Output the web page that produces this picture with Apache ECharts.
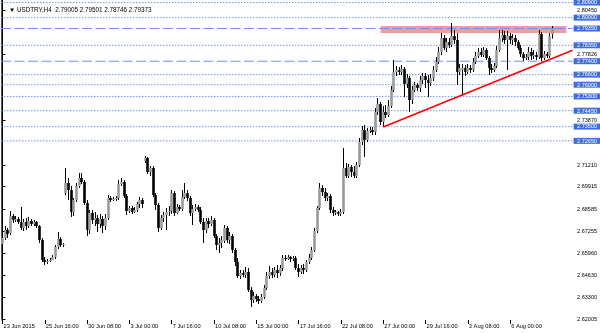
<!DOCTYPE html>
<html><head><meta charset="utf-8">
<script src="https://cdn.jsdelivr.net/npm/echarts@6/dist/echarts.min.js"></script>
<style>html,body{margin:0;padding:0;background:#fff}#c{width:600px;height:333px}</style>
</head><body><div id="c"></div>
<script>
const OPEN = [2.66500,2.66858,2.67335,2.67156,2.68170,2.67931,2.67991,2.67812,2.67454,2.67812,
2.67573,2.67871,2.67692,2.67812,2.67573,2.66739,2.65546,2.65427,2.65486,2.65546,
2.65726,2.66322,2.66798,2.66441,2.69541,2.70138,2.69720,2.68409,2.69124,2.69959,
2.70436,2.70198,2.68945,2.67335,2.68349,2.67931,2.68051,2.67692,2.67991,2.67573,
2.68051,2.69243,2.69124,2.69183,2.69243,2.70078,2.70198,2.69362,2.68468,2.68647,
2.68409,2.68528,2.68885,2.69124,2.71449,2.71629,2.70794,2.71032,2.69422,2.68826,
2.67454,2.68051,2.68230,2.68409,2.68468,2.69541,2.68349,2.68707,2.68587,2.69303,
2.69541,2.69243,2.68349,2.68587,2.68707,2.68528,2.67812,2.67335,2.67871,2.67692,
2.67931,2.66977,2.66441,2.66560,2.66679,2.67454,2.66739,2.66977,2.66143,2.65427,
2.64592,2.64771,2.64652,2.64831,2.63757,2.63161,2.63399,2.63220,2.63101,2.63340,
2.63877,2.64592,2.64831,2.64652,2.64950,2.64771,2.65069,2.65666,2.65606,2.65726,
2.65606,2.65666,2.65069,2.64831,2.65069,2.64950,2.65427,2.65666,2.66143,2.67275,
2.68647,2.69840,2.69601,2.69243,2.69362,2.68528,2.68349,2.68409,2.68289,2.68409,
2.71032,2.70555,2.71092,2.70794,2.70555,2.71211,2.72583,2.73298,2.72702,2.73238,
2.73298,2.73179,2.74372,2.74848,2.73775,2.74372,2.74193,2.74729,2.75683,2.76757,
2.76876,2.76757,2.76935,2.76041,2.76399,2.75087,2.75683,2.75982,2.75803,2.76280,
2.76518,2.76280,2.76101,2.76399,2.76876,2.77353,2.77950,2.78784,2.78188,2.78546,
2.78367,2.78903,2.78665,2.76757,2.76876,2.76995,2.76757,2.76995,2.76876,2.77353,
2.77711,2.77950,2.77771,2.78069,2.77592,2.76995,2.76876,2.77114,2.78069,2.78784,
2.78963,2.78665,2.78903,2.78665,2.78784,2.78546,2.78188,2.77830,2.77592,2.77652,
2.77950,2.77711,2.77771,2.77652,2.79022,2.77592,2.77830,2.77711,2.79005];
const CLOSE = [2.66858,2.67335,2.67096,2.68170,2.67931,2.67991,2.67812,2.67454,2.67812,2.67573,
2.67871,2.67692,2.67812,2.67573,2.66739,2.65546,2.65427,2.65486,2.65546,2.65726,
2.66322,2.66798,2.66441,2.66500,2.70138,2.69720,2.68409,2.69124,2.69959,2.70436,
2.70198,2.68945,2.67335,2.68349,2.67931,2.68051,2.67692,2.67991,2.67573,2.68051,
2.69243,2.69124,2.69183,2.69243,2.70078,2.70198,2.69362,2.68468,2.68647,2.68409,
2.68528,2.68885,2.69124,2.68885,2.71629,2.70794,2.71032,2.69422,2.68826,2.67454,
2.68051,2.68230,2.68409,2.68468,2.69541,2.68349,2.68707,2.68587,2.69303,2.69541,
2.69243,2.68349,2.68587,2.68707,2.68528,2.67812,2.67335,2.67871,2.67692,2.67931,
2.66977,2.66441,2.66560,2.66739,2.67454,2.66739,2.66977,2.66143,2.65427,2.64592,
2.64771,2.64652,2.64831,2.63757,2.63161,2.63399,2.63220,2.63101,2.63340,2.63877,
2.64592,2.64831,2.64652,2.64950,2.64771,2.65069,2.65666,2.65606,2.65726,2.65606,
2.65666,2.65069,2.64831,2.65069,2.64950,2.65427,2.65666,2.66143,2.67275,2.68647,
2.69840,2.69601,2.69243,2.69362,2.68528,2.68349,2.68409,2.68289,2.68409,2.71032,
2.70555,2.71092,2.70794,2.70555,2.71211,2.72583,2.73298,2.72702,2.73238,2.73298,
2.73179,2.74372,2.74848,2.73775,2.74372,2.74193,2.74729,2.75683,2.76757,2.76876,
2.76757,2.76935,2.76041,2.76399,2.75087,2.75683,2.75982,2.75803,2.76280,2.76518,
2.76280,2.76101,2.76399,2.76876,2.77353,2.77950,2.78784,2.78188,2.78546,2.78367,
2.78903,2.78665,2.76757,2.76995,2.76995,2.76757,2.76995,2.76876,2.77353,2.77711,
2.77950,2.77771,2.78069,2.77592,2.76995,2.76876,2.77114,2.78069,2.78784,2.78963,
2.78665,2.78903,2.78665,2.78784,2.78546,2.78188,2.77830,2.77592,2.77652,2.77950,
2.77711,2.77771,2.77652,2.79022,2.77592,2.77830,2.77711,2.78903,2.79373];
const HIGH = [2.66977,2.67573,2.67454,2.68468,2.68289,2.68170,2.68111,2.68707,2.67991,2.68051,
2.68111,2.67991,2.67931,2.67871,2.67633,2.66858,2.65726,2.65606,2.65666,2.65845,
2.66441,2.67216,2.66918,2.66560,2.71032,2.70436,2.69959,2.69243,2.70138,2.70734,
2.70734,2.70317,2.69124,2.68528,2.68528,2.68409,2.68230,2.68289,2.68170,2.68289,
2.69422,2.69362,2.69303,2.69362,2.70317,2.70436,2.70317,2.69481,2.68766,2.68766,
2.68707,2.69005,2.69303,2.69243,2.71748,2.71689,2.71151,2.71151,2.69541,2.68945,
2.68230,2.68409,2.68647,2.68766,2.69720,2.69660,2.68885,2.68826,2.69720,2.70138,
2.69720,2.69362,2.68826,2.68885,2.68826,2.68707,2.68051,2.68051,2.68051,2.68170,
2.68051,2.67096,2.66858,2.66977,2.67633,2.67573,2.67216,2.67096,2.66262,2.65666,
2.64950,2.64950,2.65129,2.65069,2.63937,2.63638,2.63518,2.63399,2.63518,2.64056,
2.64831,2.65188,2.65069,2.65129,2.65248,2.65248,2.65845,2.65845,2.65845,2.65785,
2.65785,2.65785,2.65307,2.65248,2.65307,2.65546,2.65904,2.66322,2.67454,2.68766,
2.70138,2.70019,2.69840,2.69541,2.69481,2.68707,2.68528,2.68468,2.68587,2.72225,
2.71330,2.71270,2.71211,2.71151,2.71390,2.72821,2.73536,2.73596,2.73417,2.73477,
2.73477,2.74610,2.75206,2.74968,2.74729,2.74789,2.75087,2.75922,2.77472,2.77114,
2.77055,2.77174,2.77055,2.76637,2.76518,2.75922,2.76161,2.76101,2.76518,2.76697,
2.76697,2.76578,2.76637,2.77114,2.77652,2.78248,2.79082,2.78963,2.78784,2.78784,
2.79678,2.79261,2.79082,2.77233,2.77233,2.77174,2.77233,2.77174,2.77592,2.77950,
2.78188,2.78188,2.78248,2.78188,2.77711,2.77233,2.77293,2.78307,2.79261,2.79261,
2.79201,2.79201,2.79082,2.79022,2.78963,2.78665,2.78367,2.77950,2.77830,2.78248,
2.78188,2.78069,2.77950,2.79261,2.79142,2.78009,2.77950,2.79082,2.79501];
const LOW = [2.66381,2.66739,2.66858,2.67037,2.67752,2.67812,2.67692,2.67335,2.67275,2.67335,
2.67454,2.67573,2.67573,2.67454,2.66560,2.65427,2.65248,2.65307,2.65427,2.65546,
2.65606,2.66202,2.66322,2.66322,2.69422,2.69124,2.68111,2.68170,2.69005,2.69840,
2.70078,2.68826,2.66977,2.67096,2.67692,2.67573,2.67216,2.67454,2.67156,2.67335,
2.67931,2.69005,2.69064,2.69064,2.69124,2.69959,2.69243,2.68230,2.68349,2.68289,
2.68349,2.68409,2.68647,2.68647,2.71330,2.70674,2.70555,2.69303,2.68528,2.67216,
2.67335,2.67812,2.67335,2.68170,2.68289,2.68170,2.68289,2.68468,2.68468,2.69183,
2.69064,2.68170,2.67633,2.68468,2.68409,2.67692,2.66560,2.67156,2.67454,2.67573,
2.66858,2.66143,2.65964,2.66262,2.66560,2.66560,2.66500,2.65964,2.65188,2.64473,
2.64413,2.64533,2.64473,2.63638,2.62744,2.62982,2.63042,2.62922,2.62982,2.63220,
2.63757,2.64413,2.64473,2.64533,2.64473,2.64592,2.64890,2.65486,2.65546,2.65427,
2.65486,2.64950,2.64533,2.64711,2.64711,2.64831,2.65307,2.65546,2.66024,2.67156,
2.68528,2.69362,2.69064,2.69064,2.68349,2.68170,2.68230,2.68170,2.68170,2.68289,
2.70436,2.70436,2.70496,2.70436,2.70436,2.71092,2.72404,2.71689,2.72583,2.73119,
2.73000,2.73000,2.74193,2.73596,2.73477,2.74014,2.74074,2.74610,2.75564,2.76518,
2.76578,2.76578,2.75266,2.75803,2.74372,2.74848,2.75564,2.75623,2.75564,2.76041,
2.75803,2.75266,2.75922,2.76220,2.76757,2.77233,2.77771,2.78069,2.77950,2.78188,
2.78248,2.78426,2.75982,2.76578,2.75385,2.76518,2.76637,2.76697,2.76757,2.77233,
2.77592,2.77652,2.77652,2.77472,2.76578,2.76697,2.76757,2.76995,2.77950,2.78546,
2.78426,2.76876,2.78426,2.78367,2.78307,2.78069,2.77652,2.77412,2.77472,2.77472,
2.77472,2.77532,2.77472,2.77532,2.77412,2.77472,2.77592,2.77592,2.78746];

const TIME_TICKS = [0,16,32,48,64,80,96,112,128,144,160,176,192];
const TIME_LABELS = ['23 Jun 2015','25 Jun 16:00','30 Jun 08:00','3 Jul 00:00','7 Jul 16:00','10 Jul 08:00','15 Jul 00:00','17 Jul 16:00','22 Jul 08:00','27 Jul 00:00','29 Jul 16:00','3 Aug 08:00','6 Aug 00:00'];
const PRICE_TICKS = [2.80450,2.77826,2.73870,2.71210,2.69915,2.68585,2.67255,2.65960,2.64630,2.63300,2.62005];
const LEVELS = [2.80900,2.80000,2.79350,2.78350,2.77400,2.76600,2.76000,2.75300,2.74450,2.73500,2.72650];
const DASHED_LEVELS = [2.79350,2.77400];
const TREND = [[144,2.73477],[215.6,2.78050]];
const ZONE = [[143.0,2.79500],[213.3,2.79080]];
const TITLE = '\u25BC USDTRY,H4  2.79005 2.79501 2.78746 2.79373';

const FONT = 'Liberation Sans';
const XMIN = -0.567, XMAX = 215.62;
const YMIN = 2.61968, YMAX = 2.81051;
const candles = CLOSE.map((c,i)=>[i, OPEN[i], c, LOW[i], HIGH[i]]);
const levelData = LEVELS.map(v=>[0, v]);

function renderCandle(params, api){
  const i = api.value(0);
  const o = api.coord([i, api.value(1)]);
  const c = api.coord([i, api.value(2)]);
  const l = api.coord([i, api.value(3)]);
  const h = api.coord([i, api.value(4)]);
  const xr = Math.floor(o[0]) + 0.5;
  const bull = api.value(2) >= api.value(1);
  const top = Math.min(o[1], c[1]);
  const hgt = Math.max(Math.abs(o[1]-c[1]), 1);
  return {type:'group', children:[
    {type:'line', shape:{x1:xr, y1:h[1], x2:xr, y2:l[1]}, style:{stroke:'#000', lineWidth:1}},
    {type:'rect', shape:{x:xr-1.3, y:top, width:2.6, height:hgt}, style:{fill: bull ? '#9a9a9a' : '#000'}}
  ]};
}

function renderLevelLabel(params, api){
  const v = api.value(1);
  const y = api.coord([0, v])[1];
  const cs = params.coordSys;
  const right = cs.x + cs.width;
  return {type:'group', children:[
    {type:'rect', shape:{x:right+1, y:y-3, width:27, height:6}, style:{fill:'#3f6ce0'}},
    {type:'text', x:right+4.5, y:y+0.3, style:{text:v.toFixed(5), fill:'#fff', font:'5.5px "Liberation Sans"', align:'left', verticalAlign:'middle'}}
  ]};
}

const levelSeries = LEVELS.map(v=>{
  const dashed = DASHED_LEVELS.indexOf(v) >= 0;
  return {type:'line', data:[[XMIN, v],[XMAX, v]], symbol:'none', silent:true, z:1,
    lineStyle:{color: dashed ? '#6f8ff0' : '#6a8bec', width:1, type: dashed ? [10,3.5] : [1.5,1.5], opacity: dashed ? 1 : 0.9}};
});

const chart = echarts.init(document.getElementById('c'), null, {renderer:'canvas'});
chart.setOption({
  animation:false,
  backgroundColor:'#fff',
  title:{text:TITLE, left:4, top:1.5, textStyle:{fontFamily:FONT, fontSize:6.3, fontWeight:'normal', color:'#000', lineHeight:7}},
  grid:{left:1, right:27, top:0, bottom:13},
  xAxis:{type:'value', min:XMIN, max:XMAX,
    axisLine:{show:false},
    splitLine:{show:false},
    axisTick:{show:true, customValues:TIME_TICKS, length:4, lineStyle:{color:'#000', width:1}},
    axisLabel:{customValues:TIME_TICKS, formatter:(v)=>TIME_LABELS[TIME_TICKS.indexOf(Math.round(v))]||'', align:'left', margin:3, padding:[0,0,0,1], fontFamily:FONT, fontSize:5.7, color:'#000'}},
  yAxis:[
    {type:'value', position:'right', min:YMIN, max:YMAX,
      axisLine:{show:true, lineStyle:{color:'#000', width:1}},
      splitLine:{show:false},
      axisTick:{show:true, customValues:PRICE_TICKS, length:3, lineStyle:{color:'#000'}},
      axisLabel:{customValues:PRICE_TICKS, formatter:(v)=>v.toFixed(5), margin:4.5, fontFamily:FONT, fontSize:5.5, color:'#000'}},
    {type:'value', position:'left', min:YMIN, max:YMAX,
      axisLine:{show:true, lineStyle:{color:'#555', width:1}},
      splitLine:{show:false}, axisTick:{show:false}, axisLabel:{show:false}}
  ],
  series:[
    {type:'line', data:[], z:1, silent:true,
      markArea:{silent:true, itemStyle:{color:'#f29c9c'}, data:[[{xAxis:ZONE[0][0], yAxis:ZONE[0][1]},{xAxis:ZONE[1][0], yAxis:ZONE[1][1]}]]}},
    ...levelSeries,
    {type:'custom', data:levelData, renderItem:renderLevelLabel, encode:{x:0, y:1}, z:1, silent:true, clip:false},
    {type:'custom', data:candles, renderItem:renderCandle, encode:{x:0, y:[1,2,3,4]}, z:2, silent:true, clip:true},
    {type:'line', data:TREND, z:3, silent:true, symbol:'none', lineStyle:{color:'#ff0000', width:1.6}}
  ]
});
</script></body></html>
